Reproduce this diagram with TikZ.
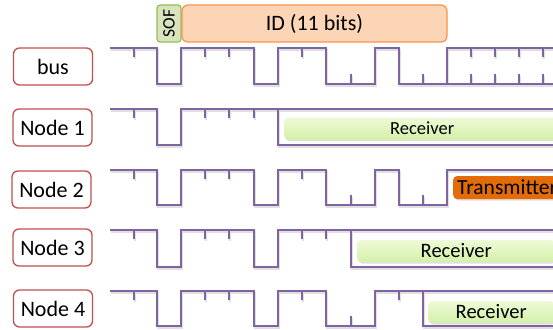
\documentclass[tikz,border=0pt]{standalone}
\usepackage{fontspec}
\setmainfont{Carlito}
\definecolor{wavepurple}{RGB}{128,100,162}
\definecolor{labelred}{RGB}{192,80,77}
\definecolor{sofgreen}{RGB}{215,228,189}
\definecolor{sofborder}{RGB}{155,187,89}
\definecolor{idfill}{RGB}{251,213,181}
\definecolor{idborder}{RGB}{247,150,70}
\definecolor{rxtop}{RGB}{238,250,215}
\definecolor{rxbottom}{RGB}{212,240,168}
\definecolor{txfill}{RGB}{227,108,9}
\usetikzlibrary{shadows}
\tikzset{
  rowlabel/.style={draw=labelred, line width=1.3pt, fill=white, rounded corners=6pt,
    minimum width=79pt, minimum height=37pt, inner sep=0pt,
    font=\fontsize{22}{24}\selectfont},
  wave/.style={draw=wavepurple, line width=1.5pt, line join=miter},
  waveshade/.style={draw=black!12, line width=2pt,
    transform canvas={xshift=1pt, yshift=-2pt}},
  rxbox/.style={anchor=west, rounded corners=4pt, minimum height=22pt, inner sep=0pt,
    top color=rxtop, bottom color=rxbottom, draw=none,
    drop shadow={opacity=0.25, shadow xshift=1pt, shadow yshift=-1.5pt}},
  txbox/.style={anchor=west, rounded corners=4pt, minimum height=23pt, inner xsep=4pt,
    inner ysep=0pt, fill=txfill, draw=none, align=left,
    font=\fontsize{21.5}{23}\selectfont,
    drop shadow={opacity=0.25, shadow xshift=1pt, shadow yshift=-1.5pt}},
}
\begin{document}
\begin{tikzpicture}[x=1pt, y=-1pt]
\useasboundingbox (0,0) rectangle (553,329);
\clip (0,0) rectangle (553,329);

% frame fields above the bus
\node[draw=sofborder, fill=sofgreen, line width=1.2pt, rounded corners=3pt,
      minimum width=24pt, minimum height=37pt, inner sep=0pt] (sof) at (169,23.5)
      {\rotatebox{90}{\fontsize{17.5}{18}\selectfont SOF}};
\node[draw=idborder, fill=idfill, line width=1.2pt, rounded corners=6pt,
      minimum width=265pt, minimum height=37pt, inner sep=0pt,
      font=\fontsize{22}{24}\selectfont] (id) at (314.5,23.5) {ID (11 bits)};

% row labels
\node[rowlabel] (lbus) at (53,66.5) {bus};
\node[rowlabel] (lone) at (52.5,127.5) {Node 1};
\node[rowlabel] (ltwo) at (51.5,189.5) {Node 2};
\node[rowlabel] (lthree) at (52.5,247.5) {Node 3};
\node[rowlabel] (lfour) at (53,308.5) {Node 4};

% bus
\begin{scope}[yshift=-48pt]
  \foreach \s in {waveshade,wave}{
    \draw[\s] (110,0) -- (157,0) -- (157,36) -- (181,36) -- (181,0) -- (254,0) -- (254,36)
      -- (278,36) -- (278,0) -- (326,0) -- (326,36) -- (375,36) -- (375,0) -- (399,0)
      -- (399,36) -- (447,36) -- (447,0) -- (560,0);
    \draw[\s] (447,36) -- (560,36);
    \foreach \t in {134,205,229,302,471,495,519,543} \draw[\s] (\t,0) -- (\t,9);
    \foreach \t in {351,423,471,495,519,543} \draw[\s] (\t,36) -- (\t,26);
  }
\end{scope}

% Node 1
\begin{scope}[yshift=-109pt]
  \foreach \s in {waveshade,wave}{
    \draw[\s] (110,0) -- (157,0) -- (157,36) -- (181,36) -- (181,0) -- (278,0)
      -- (278,36) -- (560,36);
    \draw[\s] (278,0) -- (560,0);
    \foreach \t in {134,205,229,254} \draw[\s] (\t,0) -- (\t,9);
  }
  \node[rxbox, minimum width=276pt, font=\fontsize{18.5}{20}\selectfont] (rxone) at (284,19.5) {Receiver};
\end{scope}

% Node 2
\begin{scope}[yshift=-170pt]
  \foreach \s in {waveshade,wave}{
    \draw[\s] (110,0) -- (157,0) -- (157,35) -- (181,35) -- (181,0) -- (254,0) -- (254,35)
      -- (278,35) -- (278,0) -- (326,0) -- (326,35) -- (375,35) -- (375,0) -- (399,0)
      -- (399,35) -- (447,35) -- (447,0) -- (560,0);
    \foreach \t in {134,205,229,302} \draw[\s] (\t,0) -- (\t,9);
    \foreach \t in {351,423} \draw[\s] (\t,35) -- (\t,25);
  }
  \node[txbox, text width=120pt] (tx) at (453,17.5) {Transmitter};
\end{scope}

% Node 3
\begin{scope}[yshift=-230pt]
  \foreach \s in {waveshade,wave}{
    \draw[\s] (110,0) -- (157,0) -- (157,37) -- (181,37) -- (181,0) -- (254,0) -- (254,37)
      -- (278,37) -- (278,0) -- (351,0) -- (351,37) -- (560,37);
    \draw[\s] (351,0) -- (560,0);
    \foreach \t in {134,205,229,302,326} \draw[\s] (\t,0) -- (\t,9);
  }
  \node[rxbox, minimum width=198pt, font=\fontsize{20.5}{22}\selectfont] (rxthree) at (357,21) {Receiver};
\end{scope}

% Node 4
\begin{scope}[yshift=-291pt]
  \foreach \s in {waveshade,wave}{
    \draw[\s] (110,0) -- (157,0) -- (157,35) -- (181,35) -- (181,0) -- (254,0) -- (254,35)
      -- (278,35) -- (278,0) -- (326,0) -- (326,35) -- (375,35) -- (375,0) -- (423,0)
      -- (423,35) -- (560,35);
    \draw[\s] (423,0) -- (560,0);
    \foreach \t in {134,205,229,302,399} \draw[\s] (\t,0) -- (\t,9);
    \foreach \t in {351} \draw[\s] (\t,35) -- (\t,25);
  }
  \node[rxbox, minimum width=126pt, font=\fontsize{20.5}{22}\selectfont] (rxfour) at (428,21) {Receiver};
\end{scope}
\end{tikzpicture}
\end{document}
